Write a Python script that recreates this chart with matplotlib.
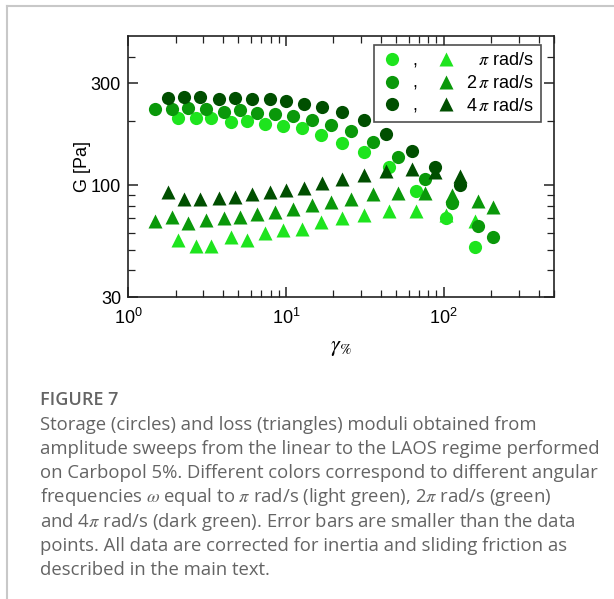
import matplotlib
matplotlib.use("Agg")
import matplotlib.pyplot as plt
from matplotlib.lines import Line2D
from matplotlib.ticker import FixedLocator, NullFormatter, FixedFormatter, LogLocator

plt.rcParams['mathtext.fontset'] = 'stix'
plt.rcParams['font.family'] = ['Liberation Sans', 'DejaVu Sans']

# ---- data: strain amplitude (%) and moduli (Pa) ----
x_pi = [2.08, 2.69, 3.38, 4.47, 5.69, 7.34, 9.64, 12.6, 16.8, 22.7, 31.4, 45.0, 67.1, 103.9, 157.3]
Gp_pi = [205.6, 207.1, 207.1, 196.9, 199.7, 194.1, 188.6, 184.5, 171.7, 158.6, 143.9, 121.5, 94.4, 70.5, 51.2]
Gpp_pi = [55.4, 51.9, 51.9, 57.4, 55.2, 59.5, 61.5, 62.6, 67.3, 70.0, 72.3, 75.8, 76.0, 73.0, 67.8]

x_2pi = [1.48, 1.90, 2.39, 3.11, 4.07, 5.12, 6.59, 8.54, 11.05, 14.6, 19.4, 25.9, 35.9, 51.1, 76.1, 112.4, 165.2, 205.7]
Gp_2pi = [226.6, 227.4, 230.7, 227.4, 221.0, 224.2, 217.8, 214.7, 210.1, 202.6, 191.3, 179.3, 159.7, 136.4, 107.5, 82.9, 64.4, 57.4]
Gpp_2pi = [67.8, 71.3, 66.8, 68.5, 70.2, 71.3, 73.1, 74.9, 77.2, 80.6, 83.5, 86.6, 91.1, 92.4, 92.4, 89.8, 84.1, 79.4]

x_4pi = [1.78, 2.25, 2.87, 3.78, 4.73, 6.13, 7.90, 10.0, 13.1, 17.05, 22.8, 31.4, 43.3, 62.6, 88.5, 127.6]
Gp_4pi = [256.2, 259.8, 258.9, 252.5, 256.2, 253.4, 252.5, 248.0, 240.9, 231.5, 220.2, 201.9, 173.5, 144.4, 121.5, 100.0]
Gpp_4pi = [93.0, 86.0, 86.0, 87.5, 88.2, 91.1, 93.0, 94.7, 97.5, 102.2, 106.7, 111.4, 116.8, 118.9, 115.5, 110.6]

series_labels = ["\u2007" + r"$\,\pi$ rad/s", r"2$\,\pi$ rad/s", r"4$\,\pi$ rad/s"]
colors = ['#1ee41e', '#0a980a', '#004f00']

y_major = [30, 100, 300]
y_minor = [40, 50, 60, 70, 80, 90, 200, 400]

caption_title = "FIGURE 7"
caption_lines = [
    "Storage (circles) and loss (triangles) moduli obtained from",
    "amplitude sweeps from the linear to the LAOS regime performed",
    "on Carbopol 5%. Different colors correspond to different angular",
    r"frequencies $\omega$ equal to $\pi$ rad/s (light green), 2$\pi$ rad/s (green)",
    r"and 4$\pi$ rad/s (dark green). Error bars are smaller than the data",
    "points. All data are corrected for inertia and sliding friction as",
    "described in the main text.",
]

W, H = 614, 599
fig = plt.figure(figsize=(W / 100, H / 100), dpi=100)

# page border lines
fig.add_artist(Line2D([7 / W, 1], [1 - 5.5 / H, 1 - 5.5 / H], color='#c8c8c8', lw=1.5))
fig.add_artist(Line2D([7 / W, 7 / W], [0, 1 - 5.5 / H], color='#c8c8c8', lw=1.5))

ax = fig.add_axes([128 / W, 1 - 297 / H, (554 - 128) / W, (297 - 36) / H])
ax.set_xscale('log')
ax.set_yscale('log')

ms_c = 9.5
ms_t = 10.5
circ_handles = []
tri_handles = []
for xs, gp, gpp, c, lab in [(x_pi, Gp_pi, Gpp_pi, colors[0], series_labels[0]),
                            (x_2pi, Gp_2pi, Gpp_2pi, colors[1], series_labels[1]),
                            (x_4pi, Gp_4pi, Gpp_4pi, colors[2], series_labels[2])]:
    h1, = ax.plot(xs, gp, 'o', color=c, ms=ms_c, mec='none', label=',')
    h2, = ax.plot(xs, gpp, '^', color=c, ms=ms_t, mec='none', label=lab)
    circ_handles.append(h1)
    tri_handles.append(h2)

ax.set_xlim(1, 500)
ax.set_ylim(30, 500)

ax.yaxis.set_major_locator(FixedLocator(y_major))
ax.yaxis.set_major_formatter(FixedFormatter([str(v) for v in y_major]))
ax.yaxis.set_minor_locator(FixedLocator(y_minor))
ax.yaxis.set_minor_formatter(NullFormatter())
ax.xaxis.set_minor_locator(LogLocator(base=10, subs=range(2, 10)))
ax.xaxis.set_minor_formatter(NullFormatter())

ax.tick_params(which='both', direction='in', top=True, right=True, labelsize=13, color='#222222')
ax.tick_params(which='major', length=7, width=1.1)
ax.tick_params(which='minor', length=5, width=0.9)
ax.tick_params(axis='x', which='major', pad=8)
ax.tick_params(axis='y', which='major', pad=5)
for s in ax.spines.values():
    s.set_linewidth(1.2)
    s.set_color('#222222')

ax.set_ylabel("G [Pa]", fontsize=13, labelpad=0)
ax.set_xlabel(r"$\gamma_{\%}$", fontsize=16, labelpad=6)

leg = ax.legend(circ_handles + tri_handles,
                [',', ',', ','] + series_labels,
                ncol=2, loc='upper right', bbox_to_anchor=(0.969, 0.966),
                borderaxespad=0, frameon=True, fancybox=False, edgecolor='#222222',
                fontsize=13, handletextpad=0.5, columnspacing=1.0, labelspacing=0.32,
                handlelength=1.2, borderpad=0.4)
leg.get_frame().set_linewidth(1.2)

# caption
cap_color = '#646464'
fig.text(40 / W, 1 - 400 / H, caption_title, fontsize=13, fontweight='semibold', color=cap_color,
         family=['Open Sans', 'DejaVu Sans'], va='center', ha='left')
for i, line in enumerate(caption_lines):
    fig.text(40 / W, 1 - (424.5 + i * 24.3) / H, line, fontsize=13.3, color=cap_color,
             family=['Open Sans', 'DejaVu Sans'], va='center', ha='left')

fig.savefig('out.png', dpi=100, facecolor='white')
